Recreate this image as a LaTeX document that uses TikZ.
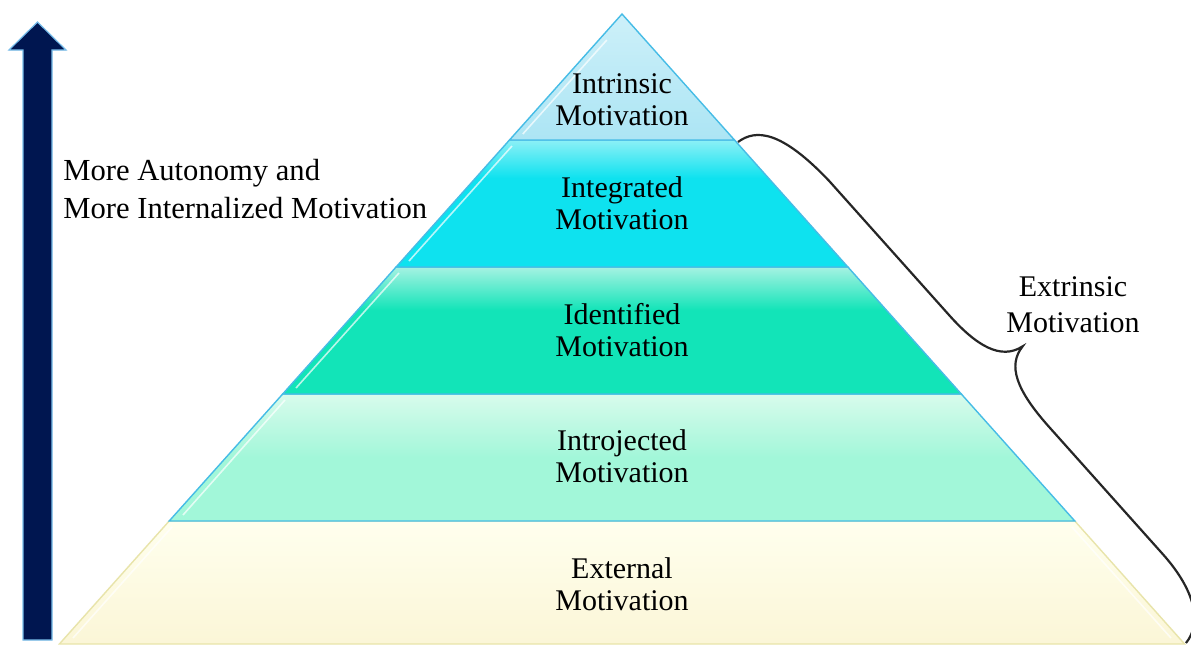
\documentclass[tikz,border=0pt]{standalone}
\usepackage{fontspec}
\setmainfont{Liberation Serif}
\definecolor{navy}{RGB}{0,22,80}
\definecolor{arrowedge}{RGB}{120,190,235}
\definecolor{edgeblue}{RGB}{70,188,230}
\definecolor{edgeyellow}{RGB}{232,228,170}
\definecolor{intT}{RGB}{205,240,249}
\definecolor{intB}{RGB}{172,229,244}
\definecolor{intgT}{RGB}{140,240,246}
\definecolor{intgB}{RGB}{14,226,239}
\definecolor{idT}{RGB}{165,242,226}
\definecolor{idB}{RGB}{18,228,184}
\definecolor{ijT}{RGB}{216,251,236}
\definecolor{ijB}{RGB}{162,247,217}
\definecolor{exT}{RGB}{255,255,238}
\definecolor{exB}{RGB}{251,246,215}
\pgfdeclareverticalshading{intshade}{100bp}{color(0bp)=(intB); color(25bp)=(intB); color(75bp)=(intT); color(100bp)=(intT)}
\pgfdeclareverticalshading{intgshade}{100bp}{color(0bp)=(intgB); color(25bp)=(intgB); color(60bp)=(intgB); color(75bp)=(intgT); color(100bp)=(intgT)}
\pgfdeclareverticalshading{idshade}{100bp}{color(0bp)=(idB); color(25bp)=(idB); color(58bp)=(idB); color(75bp)=(idT); color(100bp)=(idT)}
\pgfdeclareverticalshading{ijshade}{100bp}{color(0bp)=(ijB); color(25bp)=(ijB); color(50bp)=(ijB); color(75bp)=(ijT); color(100bp)=(ijT)}
\pgfdeclareverticalshading{exshade}{100bp}{color(0bp)=(exB); color(25bp)=(exB); color(75bp)=(exT); color(100bp)=(exT)}
\begin{document}
\begin{tikzpicture}[x=0.5pt,y=-0.5pt,
  lbl/.style={font=\fontsize{15}{16}\selectfont, align=center, text=black, inner sep=0pt},
  sidelbl/.style={font=\fontsize{15.3}{19}\selectfont, align=left, text=black, inner sep=0pt},
  extlbl/.style={font=\fontsize{15}{18}\selectfont, align=center, text=black, inner sep=0pt},
  layer/.style={draw=edgeblue, line width=0.7pt},
  shine/.style={draw=white, line width=0.8pt, opacity=0.7},
  bracestyle/.style={draw=black!85, line width=1.1pt}]
\useasboundingbox (0,0) rectangle (1191,644);
\fill[white] (0,0) rectangle (1191,644);

% ---------- pyramid layers ----------
\shadedraw[layer, draw=edgeyellow, shading=exshade]
  (169.2,521) -- (1074.8,521) -- (1184.6,644) -- (59.4,644) -- cycle;
\shadedraw[layer, shading=ijshade]
  (282.7,394) -- (961.3,394) -- (1074.8,521) -- (169.2,521) -- cycle;
\shadedraw[layer, shading=idshade]
  (396.1,267) -- (847.9,267) -- (961.3,394) -- (282.7,394) -- cycle;
\shadedraw[layer, shading=intgshade]
  (509.5,140) -- (734.5,140) -- (847.9,267) -- (396.1,267) -- cycle;
\shadedraw[layer, shading=intshade]
  (622,14) -- (734.5,140) -- (509.5,140) -- cycle;

% ---------- highlights ----------
\draw[shine] (606.8,40) -- (522.8,134);
\draw[shine] (512,146) -- (409,261);
\draw[shine] (399,273) -- (296,388);
\draw[shine] (285,400) -- (183,515);
\draw[shine] (172,527) -- (73,638);
\draw[shine] (1072,527) -- (1171,638);

% ---------- labels in pyramid ----------
\node[lbl] (intr) at (622,100) {Intrinsic\\Motivation};
\node[lbl] (integ) at (622,203) {Integrated\\Motivation};
\node[lbl] (ident) at (622,330) {Identified\\Motivation};
\node[lbl] (introj) at (622,456) {Introjected\\Motivation};
\node[lbl] (extern) at (622,584) {External\\Motivation};

% ---------- arrow ----------
\filldraw[fill=navy, draw=arrowedge, line width=0.6pt]
  (23,640) -- (23,50) -- (9,50) -- (37.5,22) -- (66,50) -- (52,50) -- (52,640) -- cycle;
\node[sidelbl, anchor=west] (auto) at (63,189) {More Autonomy and\\More Internalized Motivation};

% ---------- brace ----------
\coordinate (bstart) at (738,142);
\coordinate (bend) at (1186,643);
\begin{scope}[shift={(369pt,-71pt)}, x={(0.3333pt,-0.3728pt)}, y={(0.3728pt,0.3333pt)}]
\draw[bracestyle] (0,0) .. controls (2,22) and (20,40) .. (90,42)
  -- (270,42) .. controls (310,42) and (338,50) .. (342,76)
  .. controls (346,52) and (370,42) .. (420,42)
  -- (590,42) .. controls (640,42) and (668,25) .. (672,0);
\end{scope}
\node[extlbl] (extr) at (1073,305) {Extrinsic\\Motivation};
\end{tikzpicture}
\end{document}
